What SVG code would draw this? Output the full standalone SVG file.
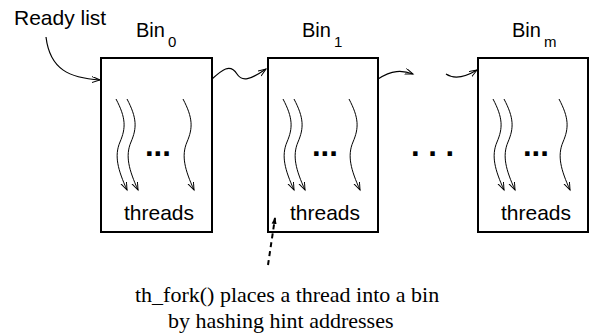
<svg xmlns="http://www.w3.org/2000/svg" xmlns:xlink="http://www.w3.org/1999/xlink" width="592" height="335" viewBox="0 0 592 335">
<style>
.box{fill:#fff;stroke:#000;stroke-width:2}
.lbl{font-family:"Liberation Sans",Arial,sans-serif;font-size:21px;fill:#000}
.bin{font-family:"Liberation Sans",Arial,sans-serif;font-size:20px;fill:#000}
.sub{font-size:15px}
.dots{font-family:"Liberation Sans",Arial,sans-serif;font-size:31px;font-weight:bold;fill:#000}
.cap{font-family:"Liberation Serif","Times New Roman",serif;font-size:22px;fill:#000}
.conn{fill:none;stroke:#000;stroke-width:1.2;marker-end:url(#open)}
.thr{fill:none;stroke:#000;stroke-width:1;marker-end:url(#open)}
</style>
<defs>
<marker id="open" markerWidth="10" markerHeight="8" refX="8" refY="3" orient="auto" markerUnits="userSpaceOnUse">
<path d="M0,0 L8,3 L0,6" fill="none" stroke="#000" stroke-width="1"/>
</marker>
<marker id="solid" markerWidth="8" markerHeight="10" refX="6" refY="3" orient="auto" markerUnits="userSpaceOnUse">
<path d="M0,0.5 L7,3 L0,5.5 Z" fill="#000"/>
</marker>
<path id="wave" class="thr" d="M0,0 C10,19 10,29 4,43 C-2,57 2,71 11,91"/>
</defs>

<g id="ready-list">
<text class="lbl" x="14" y="25">Ready list</text>
</g>

<g id="bin0">
<rect class="box" x="101" y="58" width="111" height="174"/>
<text class="bin" x="136" y="37">Bin<tspan class="sub" dx="3" dy="10">0</tspan></text>
<use xlink:href="#wave" x="116" y="99"/>
<use xlink:href="#wave" x="127" y="99"/>
<use xlink:href="#wave" x="183" y="99"/>
<text class="dots" x="145" y="156">...</text>
<text class="lbl" x="124" y="220">threads</text>
</g>

<g id="bin1">
<rect class="box" x="268" y="58" width="110" height="174"/>
<text class="bin" x="302" y="37">Bin<tspan class="sub" dx="3" dy="10">1</tspan></text>
<use xlink:href="#wave" x="283" y="99"/>
<use xlink:href="#wave" x="294" y="99"/>
<use xlink:href="#wave" x="349" y="99"/>
<text class="dots" x="312" y="156">...</text>
<text class="lbl" x="290" y="220">threads</text>
</g>

<g id="gap-dots">
<text class="dots" x="411" y="156">. . .</text>
</g>

<g id="binm">
<rect class="box" x="478" y="58" width="110" height="174"/>
<text class="bin" x="512" y="37">Bin<tspan class="sub" dx="3" dy="10">m</tspan></text>
<use xlink:href="#wave" x="493" y="99"/>
<use xlink:href="#wave" x="504" y="99"/>
<use xlink:href="#wave" x="559" y="99"/>
<text class="dots" x="523" y="156">...</text>
<text class="lbl" x="501" y="220">threads</text>
</g>

<g id="connectors">
<path class="conn" d="M46,37 C50,70 70,78 100,80"/>
<path class="conn" d="M212,79 C222,70 230,63 237,74 C242,82 250,80 266,69"/>
<path class="conn" d="M378,79 C392,70 402,70 413,74"/>
<path class="conn" d="M446,74 C452,78 462,79 477,70"/>
<path d="M268,265 L275,218" fill="none" stroke="#000" stroke-width="2" stroke-dasharray="5,4" marker-end="url(#solid)"/>
</g>

<g id="caption">
<text class="cap" x="135" y="302">th_fork() places a thread into a bin</text>
<text class="cap" x="168" y="328">by hashing hint addresses</text>
</g>
</svg>
